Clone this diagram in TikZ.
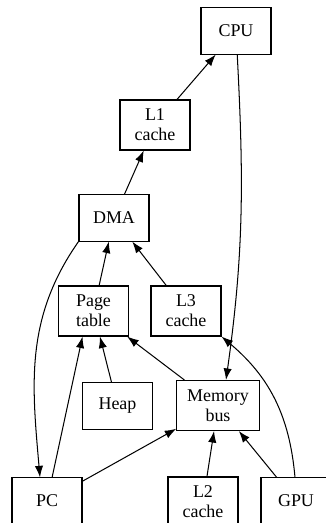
\documentclass[tikz,border=0pt]{standalone}
\usepackage{fontspec}
\setmainfont{Liberation Serif}
\usetikzlibrary{arrows.meta,topaths,calc,positioning}

\begin{document}
\begin{tikzpicture}[>={Latex[length=9pt,width=6.5pt]}, x=0.78pt, y=-0.78pt, thick,
    box/.style={draw, rectangle, align=center, minimum width=54.6pt, minimum height=36pt,
                inner xsep=8pt, font=\fontsize{14}{15.5}\selectfont},
    tall/.style={minimum height=39pt}]

  \useasboundingbox (0,0) rectangle (326,523);

  \node[box]            (cpu)   at (236,31)    {CPU};
  \node[box, tall]      (l1)    at (155,125)   {L1\\cache};
  \node[box]            (dma)   at (114,218)   {DMA};
  \node[box, tall]      (pt)    at (93.5,311)  {Page\\table};
  \node[box, tall]      (l3)    at (186,311)   {L3\\cache};
  \node[box]            (heap)  at (117.5,406) {Heap};
  \node[box, tall]      (mem)   at (218,405.5) {Memory\\bus};
  \node[box]            (pc)    at (47,501)    {PC};
  \node[box, tall]      (l2)    at (203,502)   {L2\\cache};
  \node[box]            (gpu)   at (296,501)   {GPU};

  \path[->]   (l1)    edge                          (cpu)
              (cpu)   edge  [out=-87, in=82]        ($(mem.north)+(8,0)$)
              (dma)   edge                          (l1)
              (dma.south west) edge [out=-125, in=95] ($(pc.north)+(-7,0)$)
              (pt)    edge                          (dma)
              (l3)    edge                          (dma)
              (pc)    edge                          ($(pt.south)+(-11,0)$)
                      edge                          (mem)
              (heap)  edge                          (pt)
              (mem)   edge                          (pt)
              (l2)    edge                          (mem)
              (gpu)   edge                          (mem)
              ($(gpu.north)+(-1,0)$) edge [out=95, in=-40] (l3.south east);
\end{tikzpicture}
\end{document}
